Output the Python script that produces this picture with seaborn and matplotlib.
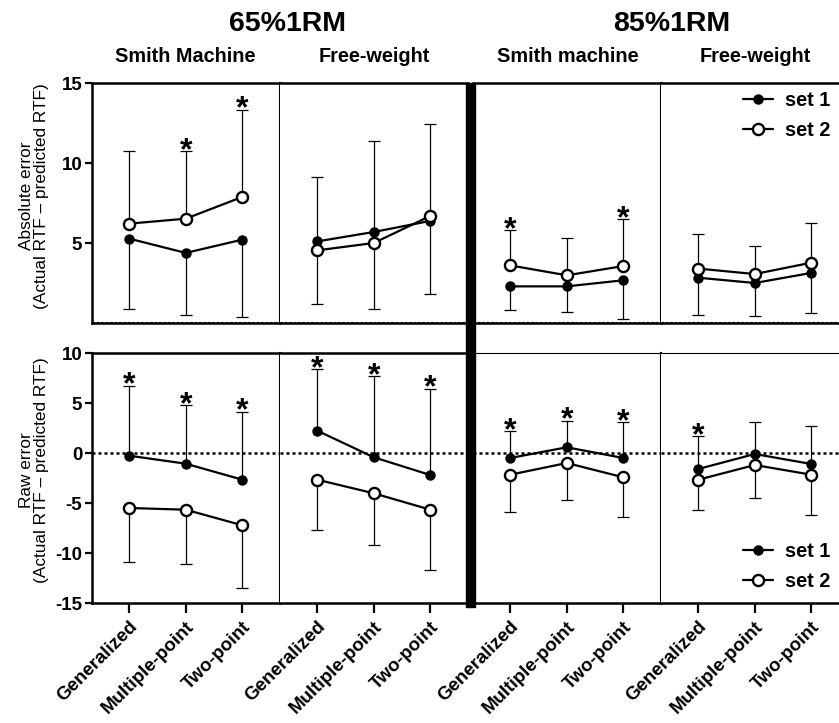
import numpy as np
import pandas as pd
import matplotlib
matplotlib.use("Agg")
import matplotlib.pyplot as plt
import matplotlib.transforms as mtransforms
from matplotlib.lines import Line2D
from matplotlib.patches import Rectangle
import seaborn as sns

# %%
methods = ["Generalized", "Multiple-point", "Two-point"]
panel_names = ["Smith Machine", "Free-weight", "Smith machine", "Free-weight"]
load_names = ["65%1RM", "85%1RM"]

# absolute error (mean, SD) - one list per panel
abs_set1_mean = [[5.27, 4.38, 5.21], [5.10, 5.69, 6.38], [2.29, 2.29, 2.67], [2.83, 2.50, 3.13]]
abs_set1_sd = [[4.37, 3.90, 4.83], [3.93, 4.79, 4.54], [1.50, 1.60, 2.40], [2.31, 2.08, 2.50]]
abs_set2_mean = [[6.21, 6.52, 7.88], [4.54, 5.00, 6.69], [3.60, 2.98, 3.56], [3.40, 3.06, 3.77]]
abs_set2_sd = [[4.54, 4.23, 5.46], [4.59, 6.38, 5.77], [2.20, 2.33, 2.94], [2.16, 1.78, 2.50]]

# raw error (mean, SD)
raw_set1_mean = [[-0.27, -1.07, -2.67], [2.23, -0.43, -2.20], [-0.50, 0.57, -0.50], [-1.60, -0.10, -1.10]]
raw_set1_sd = [[7.00, 5.87, 6.80], [6.17, 8.10, 8.63], [2.67, 2.66, 3.57], [3.27, 3.23, 3.83]]
raw_set2_mean = [[-5.50, -5.67, -7.23], [-2.67, -4.03, -5.67], [-2.17, -1.00, -2.43], [-2.67, -1.20, -2.17]]
raw_set2_sd = [[5.40, 5.40, 6.30], [5.06, 5.17, 6.03], [3.70, 3.67, 3.97], [3.06, 3.33, 4.00]]

# significance stars (1 = star above the SD bar)
abs_stars = [[0, 1, 1], [0, 0, 0], [1, 0, 1], [0, 0, 0]]
raw_stars = [[1, 1, 1], [1, 1, 1], [1, 1, 1], [1, 0, 0]]

# %%
rows = []
for p in range(4):
    for i, m in enumerate(methods):
        rows.append(["abs", p, "set 1", i, abs_set1_mean[p][i], abs_set1_sd[p][i], -1, 0])
        rows.append(["abs", p, "set 2", i, abs_set2_mean[p][i], abs_set2_sd[p][i], 1, abs_stars[p][i]])
        rows.append(["raw", p, "set 1", i, raw_set1_mean[p][i], raw_set1_sd[p][i], 1, raw_stars[p][i]])
        rows.append(["raw", p, "set 2", i, raw_set2_mean[p][i], raw_set2_sd[p][i], -1, 0])
df = pd.DataFrame(rows, columns=["measure", "panel", "set", "x", "mean", "sd", "side", "star"])
df["end"] = df["mean"] + df["side"] * df["sd"]

# %%
sns.set_theme(style="ticks")
plt.rcParams["font.family"] = ["Liberation Sans", "DejaVu Sans"]
plt.rcParams["text.color"] = "black"
plt.rcParams["xtick.color"] = "black"
plt.rcParams["ytick.color"] = "black"
plt.rcParams["axes.labelcolor"] = "black"

W, H = 839, 723
fig = plt.figure(figsize=(W / 100, H / 100), dpi=100)

def px_axes(x0, y0, x1, y1):
    return fig.add_axes([x0 / W, 1 - y1 / H, (x1 - x0) / W, (y1 - y0) / H])

col_px = [(92, 280), (280, 468), (473, 661), (661, 849)]
row_px = {"abs": (83, 323), "raw": (353, 603)}
ylims = {"abs": (0, 15), "raw": (-15, 10)}
yticks = {"abs": [5, 10, 15], "raw": [-15, -10, -5, 0, 5, 10]}

styles = {
    "set 1": dict(marker="o", markersize=6.5, markerfacecolor="black", markeredgecolor="black", markeredgewidth=1),
    "set 2": dict(marker="o", markersize=8, markerfacecolor="white", markeredgecolor="black", markeredgewidth=1.7),
}

axes = {}
for meas in ["abs", "raw"]:
    for p in range(4):
        y0, y1 = row_px[meas]
        ax = px_axes(col_px[p][0], y0, col_px[p][1], y1)
        axes[(meas, p)] = ax
        d = df[(df["measure"] == meas) & (df["panel"] == p)]

        if meas == "raw":
            ax.axhline(0, color="black", lw=1.8, ls=(0, (1.2, 1.2)), zorder=1)
        else:
            ax.axhline(0.05, color="black", lw=0.8, ls=(0, (2, 2)), zorder=1)

        for s in ["set 1", "set 2"]:
            sub = d[d["set"] == s]
            # one-sided SD bars
            ax.vlines(sub["x"], sub["mean"], sub["end"], color="black", lw=0.9, zorder=2)
            ax.plot(sub["x"], sub["end"], ls="none", marker="_", markersize=8,
                    markeredgewidth=0.9, color="black", zorder=2)
            sns.lineplot(data=sub, x="x", y="mean", color="black", lw=1.6, ax=ax,
                         legend=False, errorbar=None, zorder=3, **styles[s])

        # stars above the caps
        tr = mtransforms.offset_copy(ax.transData, fig=fig, y=-8, units="dots")
        for _, r in d[d["star"] == 1].iterrows():
            ax.text(r["x"], r["end"], "*", transform=tr,
                    ha="center", va="baseline", fontsize=23, fontweight="bold")

        ax.set_xlim(-0.66, 2.667)
        ax.set_ylim(*ylims[meas])
        ax.set_xlabel("")
        ax.set_ylabel("")

        for side in ["top", "bottom", "left", "right"]:
            ax.spines[side].set_color("black")
            ax.spines[side].set_linewidth(1.8)
        ax.spines["left"].set_visible(p == 0)
        ax.spines["right"].set_visible(p in (0, 2))
        ax.spines["right"].set_linewidth(1.5)
        if meas == "raw" and p >= 2:
            ax.spines["top"].set_linewidth(0.8)

        if p == 0:
            ax.set_yticks(yticks[meas])
            ax.set_yticklabels([str(t) for t in yticks[meas]], fontsize=13.5, fontweight="bold")
            ax.tick_params(axis="y", length=5, width=1.6, color="black", labelcolor="black", pad=2)
        else:
            ax.tick_params(axis="y", left=False, labelleft=False)

        if meas == "raw":
            ax.set_xticks(range(len(methods)))
            ax.set_xticklabels(methods, rotation=45, ha="right", rotation_mode="anchor",
                               fontsize=13.5, fontweight="bold")
            ax.tick_params(axis="x", length=7, width=1.6, color="black", labelcolor="black", pad=4)
        else:
            ax.set_xticks([])

# thick separator between load blocks
fig.add_artist(Rectangle((466 / W, 1 - 607 / H), 9 / W, (607 - 83) / H,
                         transform=fig.transFigure, color="black", zorder=10))

# titles
title_x = [185, 374, 568, 755]
for p in range(4):
    fig.text(title_x[p] / W, 1 - 56 / H, panel_names[p], ha="center", va="center",
             fontsize=14.3, fontweight="bold")
fig.text(288 / W, 1 - 24 / H, load_names[0], ha="center", va="center", fontsize=20.5, fontweight="bold")
fig.text(672 / W, 1 - 24 / H, load_names[1], ha="center", va="center", fontsize=20.5, fontweight="bold")

# y labels
fig.text(34 / W, 1 - 196 / H, "Absolute error\n(Actual RTF \u2013 predicted RTF)", rotation=90,
         ha="center", va="center", fontsize=12.4, linespacing=1.0)
fig.text(34 / W, 1 - 470 / H, "Raw error\n(Actual RTF \u2013 predicted RTF)", rotation=90,
         ha="center", va="center", fontsize=12.4, linespacing=1.0)

# legends
handles = [Line2D([0], [0], color="black", lw=1.6, **styles["set 1"]),
           Line2D([0], [0], color="black", lw=1.6, **styles["set 2"])]
for meas, ytop in [("abs", 91), ("raw", 542)]:
    axes[(meas, 3)].legend(handles, ["set 1", "set 2"], loc="upper right",
                           bbox_to_anchor=(830 / W, 1 - ytop / H), bbox_transform=fig.transFigure,
                           frameon=False, borderaxespad=0, borderpad=0, handlelength=1.5,
                           handletextpad=0.6, labelspacing=0.55,
                           prop={"weight": "bold", "size": 14.3})

fig.savefig("out.png", dpi=100)
